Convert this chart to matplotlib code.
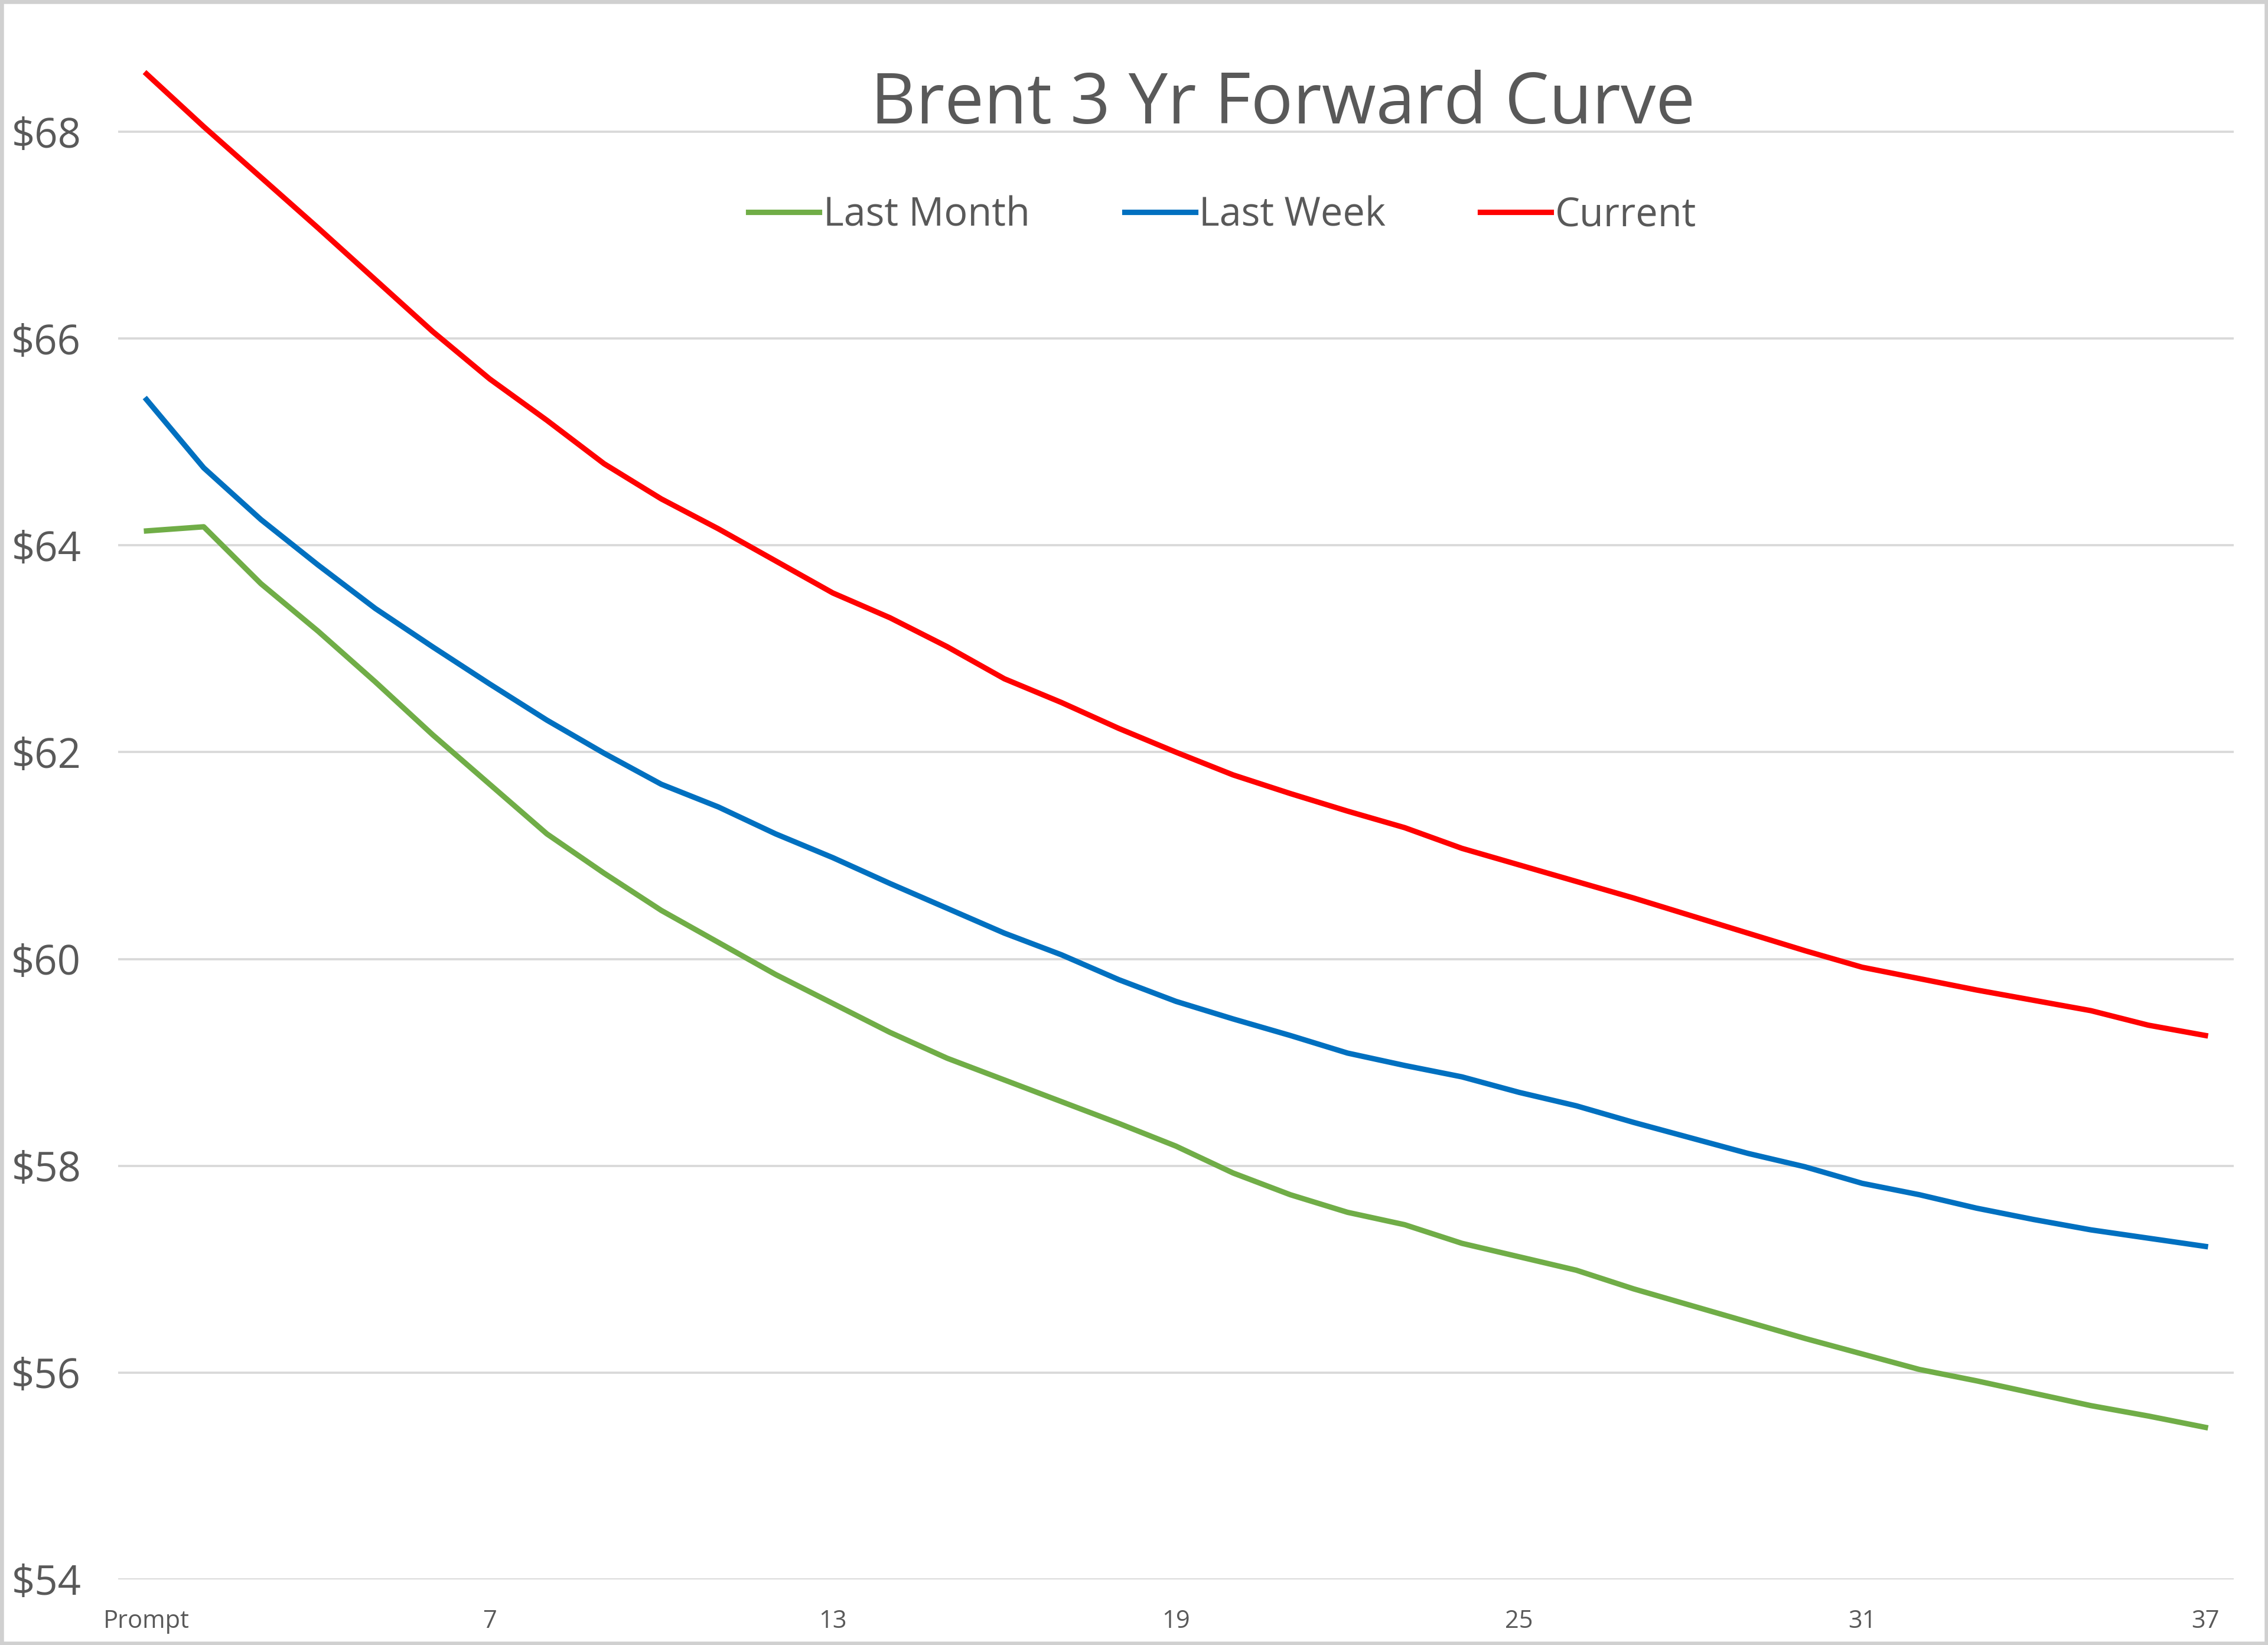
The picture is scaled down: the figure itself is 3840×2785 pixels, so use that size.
import matplotlib.pyplot as plt
from matplotlib.patches import Rectangle

# forward curve months (1 = prompt)
months = list(range(1, 38))
tick_months = [1, 7, 13, 19, 25, 31, 37]
tick_labels = ["Prompt", "7", "13", "19", "25", "31", "37"]

last_month = [64.14, 64.18, 63.63, 63.17, 62.68, 62.17, 61.69, 61.21, 60.83, 60.47,
              60.16, 59.85, 59.57, 59.29, 59.04, 58.83, 58.62, 58.41, 58.19, 57.93,
              57.72, 57.55, 57.43, 57.25, 57.12, 56.99, 56.81, 56.65, 56.49, 56.33,
              56.18, 56.03, 55.92, 55.80, 55.68, 55.58, 55.47]
last_week = [65.41, 64.75, 64.25, 63.81, 63.39, 63.02, 62.66, 62.31, 61.99, 61.69,
             61.47, 61.21, 60.98, 60.73, 60.49, 60.25, 60.04, 59.80, 59.59, 59.42,
             59.26, 59.09, 58.97, 58.86, 58.71, 58.58, 58.42, 58.27, 58.12, 57.99,
             57.83, 57.72, 57.59, 57.48, 57.38, 57.30, 57.22]
current = [68.56, 68.05, 67.56, 67.07, 66.57, 66.07, 65.61, 65.21, 64.79, 64.45,
           64.16, 63.85, 63.54, 63.30, 63.02, 62.71, 62.48, 62.23, 62.00, 61.78,
           61.60, 61.43, 61.27, 61.07, 60.91, 60.75, 60.59, 60.42, 60.25, 60.08,
           59.92, 59.81, 59.70, 59.60, 59.50, 59.36, 59.26]

y_ticks = [54, 56, 58, 60, 62, 64, 66, 68]

plt.rcParams["font.family"] = ["Open Sans", "DejaVu Sans"]
text_color = "#595959"

fig = plt.figure(figsize=(12.8, 2785 / 300), dpi=300)
ax = fig.add_axes([0.052, 0.0399, 0.933, 0.9554])

ax.plot(months, last_month, color="#70AD47", lw=2.2, label="Last Month")
ax.plot(months, last_week, color="#0070C0", lw=2.2, label="Last Week")
ax.plot(months, current, color="#FF0000", lw=2.2, label="Current")

ax.set_xlim(0.5, 37.5)
ax.set_ylim(54, 69.2)
ax.set_yticks(y_ticks)
ax.set_yticklabels([f"${v}" for v in y_ticks])
ax.set_xticks(tick_months)
ax.set_xticklabels(tick_labels)
ax.tick_params(axis="y", length=0, pad=15, labelsize=16.5, labelcolor=text_color)
ax.tick_params(axis="x", length=0, pad=12, labelsize=10, labelcolor=text_color)
ax.grid(axis="y", color="#D9D9D9", lw=0.9)
ax.set_axisbelow(True)
for s in ax.spines.values():
    s.set_visible(False)

fig.text(0.5656, 0.936, "Brent 3 Yr Forward Curve", ha="center", va="center",
         fontsize=28.5, color=text_color)
fig.legend(loc="center", bbox_to_anchor=(0.539, 0.869), ncol=3, frameon=False,
           fontsize=16, labelcolor=text_color, handlelength=1.8,
           handletextpad=0.1, columnspacing=2.4)

fig.patches.append(Rectangle((0, 0), 1, 1, transform=fig.transFigure, fill=False,
                             edgecolor="#D0D0D0", lw=3))

fig.savefig("out.png", dpi=300)
